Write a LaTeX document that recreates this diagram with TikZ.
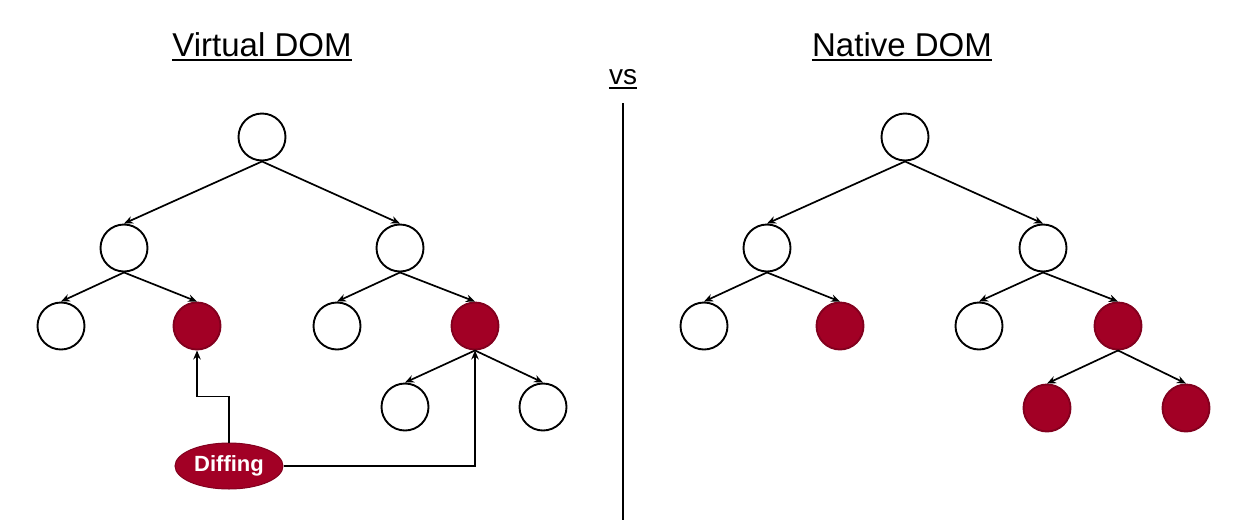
\documentclass[tikz,border=0pt]{standalone}
\usepackage{fontspec}
\setmainfont{Liberation Sans}
\usetikzlibrary{arrows.meta,shapes.geometric,calc}
\definecolor{crim}{HTML}{A20025}
\begin{document}
\begin{tikzpicture}[x=1pt,y=-1pt,
  nd/.style={circle,draw=black,line width=1.9pt,minimum size=47pt,inner sep=0pt,fill=white},
  rd/.style={nd,fill=crim,draw=crim!80!black},
  arr/.style={-{Stealth[length=9pt,width=7.5pt]},line width=1.7pt},
  ttl/.style={font=\fontsize{33}{33}\selectfont,inner sep=0pt,anchor=base},
  ul/.style={line width=2.2pt}]
\useasboundingbox (0,0) rectangle (1242,520);
% titles
\node[ttl] (t1) at (262,56) {Virtual DOM};
\draw[ul] ($(t1.base west)+(0,4)$) -- ($(t1.base east)+(0,4)$);
\node[ttl] (t2) at (902,56) {Native DOM};
\draw[ul] ($(t2.base west)+(0,4)$) -- ($(t2.base east)+(0,4)$);
\node[ttl,font=\fontsize{28}{28}\selectfont] (vs) at (623,84) {vs};
\draw[ul] ($(vs.base west)+(0,4)$) -- ($(vs.base east)+(0,4)$);
\coordinate (vtop) at (623,103);
\coordinate (vbot) at (623,520);
\draw[line width=1.8pt] (vtop) -- (vbot);
% left tree
\node[nd] (a) at (262,137) {};
\node[nd] (b1) at (124,248) {};
\node[nd] (b2) at (400,248) {};
\node[nd] (c1) at (61,326) {};
\node[rd] (c2) at (197,326) {};
\node[nd] (c3) at (337,326) {};
\node[rd] (c4) at (475,326) {};
\node[nd] (d1) at (405,407) {};
\node[nd] (d2) at (543,407) {};
\foreach \p/\c in {a/b1,a/b2,b1/c1,b1/c2,b2/c3,b2/c4,c4/d1,c4/d2}
  \draw[arr] (\p.south) -- (\c.north);
\node[ellipse,fill=crim,draw=crim!80!black,line width=1pt,minimum width=108pt,minimum height=46pt,inner sep=0pt,
  text=white,font=\bfseries\fontsize{22}{22}\selectfont] (diff) at (229,466) {Diffing};
\draw[arr] (diff.north) -- ++(0,-46) -| (c2.south);
\draw[arr] (diff.east) -| (c4.south);
% right tree
\node[nd] (A) at (905,137) {};
\node[nd] (B1) at (767,248) {};
\node[nd] (B2) at (1043,248) {};
\node[nd] (C1) at (704,326) {};
\node[rd] (C2) at (840,326) {};
\node[nd] (C3) at (979,326) {};
\node[rd] (C4) at (1118,326) {};
\node[rd] (D1) at (1047,408) {};
\node[rd] (D2) at (1186,408) {};
\foreach \p/\c in {A/B1,A/B2,B1/C1,B1/C2,B2/C3,B2/C4,C4/D1,C4/D2}
  \draw[arr] (\p.south) -- (\c.north);
\end{tikzpicture}
\end{document}
